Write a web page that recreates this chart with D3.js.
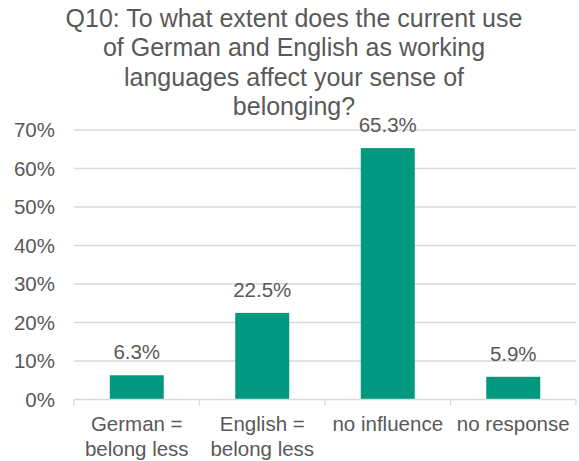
<!DOCTYPE html>
<html>
<head>
<meta charset="utf-8">
<script src="https://cdn.jsdelivr.net/npm/d3@7"></script>
<style>
  html, body { margin: 0; padding: 0; background: #ffffff; }
  svg { display: block; font-family: "Liberation Sans", Arial, sans-serif; }
</style>
</head>
<body>
<svg id="chart" width="579" height="461"></svg>
<script>
// Survey answers (share of respondents, %)
const categories = [["German =", "belong less"], ["English =", "belong less"], ["no influence"], ["no response"]];
const values = [6.3, 22.5, 65.3, 5.9];
const yTicks = [0, 10, 20, 30, 40, 50, 60, 70];
const titleLines = [
  "Q10: To what extent does the current use",
  "of German and English as working",
  "languages affect your sense of",
  "belonging?"
];

const W = 579, H = 461;
const margin = { left: 74, right: 3, top: 130, bottom: 61.5 };
const textColor = "#595959";
const gridColor = "#d9d9d9";
const barColor = "#009980";

const svg = d3.select("#chart");

const x = d3.scaleBand()
  .domain(d3.range(values.length))
  .range([margin.left, W - margin.right])
  .paddingInner(0.57)
  .paddingOuter(0.285);

const y = d3.scaleLinear()
  .domain([0, 70])
  .range([H - margin.bottom, margin.top]);

// Horizontal gridlines
svg.append("g")
  .selectAll("line")
  .data(yTicks.filter(d => d > 0))
  .join("line")
  .attr("x1", margin.left)
  .attr("x2", W - margin.right)
  .attr("y1", d => y(d))
  .attr("y2", d => y(d))
  .attr("stroke", gridColor)
  .attr("stroke-width", 1.3);

// Y axis labels
const yAxis = svg.append("g")
  .attr("transform", `translate(${margin.left},0)`)
  .call(d3.axisLeft(y).tickValues(yTicks).tickFormat(d => d + "%").tickSize(0).tickPadding(19));
yAxis.select(".domain").remove();
yAxis.selectAll("text")
  .attr("fill", textColor)
  .style("font-size", "20.5px")
  .style("font-family", "'Liberation Sans', Arial, sans-serif");

// Bars
svg.append("g")
  .selectAll("rect")
  .data(values)
  .join("rect")
  .attr("x", (d, i) => x(i))
  .attr("width", x.bandwidth())
  .attr("y", d => y(d))
  .attr("height", d => y(0) - y(d))
  .attr("fill", barColor);

// Value labels
svg.append("g")
  .selectAll("text")
  .data(values)
  .join("text")
  .attr("x", (d, i) => x(i) + x.bandwidth() / 2)
  .attr("y", d => y(d) - 16)
  .attr("text-anchor", "middle")
  .attr("fill", textColor)
  .style("font-size", "20.5px")
  .text(d => d.toFixed(1) + "%");

// X axis baseline with separators between categories
const step = x.step();
const xStart = margin.left;
const xAxisG = svg.append("g");
xAxisG.append("line")
  .attr("x1", margin.left)
  .attr("x2", W - margin.right)
  .attr("y1", y(0))
  .attr("y2", y(0))
  .attr("stroke", gridColor)
  .attr("stroke-width", 1.3);
xAxisG.selectAll("line.sep")
  .data(d3.range(values.length + 1))
  .join("line")
  .attr("class", "sep")
  .attr("x1", i => xStart + i * step)
  .attr("x2", i => xStart + i * step)
  .attr("y1", y(0))
  .attr("y2", y(0) + 6)
  .attr("stroke", gridColor)
  .attr("stroke-width", 1.3);

// Category labels
const catG = svg.append("g");
categories.forEach((lines, i) => {
  const t = catG.append("text")
    .attr("text-anchor", "middle")
    .attr("fill", textColor)
    .style("font-size", "20.5px");
  lines.forEach((ln, j) => {
    t.append("tspan")
      .attr("x", x(i) + x.bandwidth() / 2)
      .attr("y", y(0) + 31 + j * 25)
      .text(ln);
  });
});

// Title
const title = svg.append("text")
  .attr("text-anchor", "middle")
  .attr("fill", textColor)
  .style("font-size", "25px");
titleLines.forEach((ln, j) => {
  title.append("tspan")
    .attr("x", 294)
    .attr("y", 27 + j * 29.3)
    .text(ln);
});
</script>
</body>
</html>
